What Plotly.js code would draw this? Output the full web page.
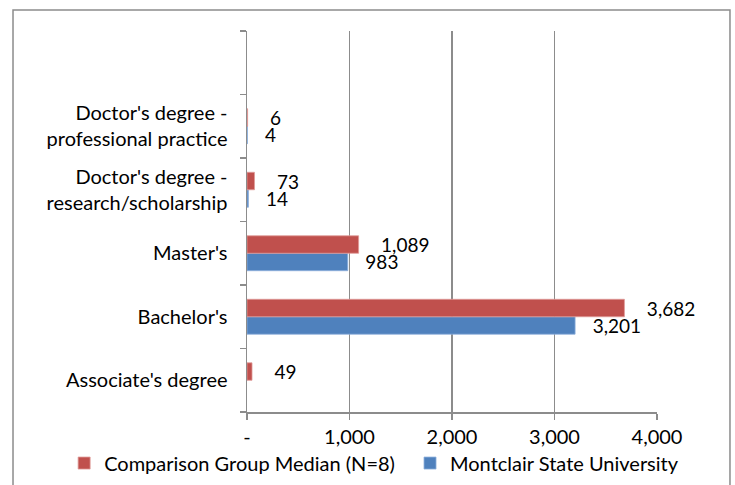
<!DOCTYPE html>
<html>
<head>
<meta charset="utf-8">
<script src="https://cdn.plot.ly/plotly-3.0.1.min.js"></script>
<style>html,body{margin:0;padding:0;background:#fff;}#chart{width:735px;height:485px;}</style>
</head>
<body>
<div id="chart"></div>
<script>
// Categories listed bottom to top
const categories = [
  "Associate's degree",
  "Bachelor's",
  "Master's",
  "Doctor's degree -<br>research/scholarship",
  "Doctor's degree -<br>professional practice",
  " "
];
const comparisonMedian = [49, 3682, 1089, 73, 6, null];
const montclair = [null, 3201, 983, 14, 4, null];
const seriesNames = ["Comparison Group Median (N=8)", "Montclair State University"];
const xTickVals = [0, 1000, 2000, 3000, 4000];
const xTickText = ["-", "1,000", "2,000", "3,000", "4,000"];

const FONT = "Lato, 'Open Sans', sans-serif";
const GRID = "#8c8c8c";

const traces = [
  {
    type: "bar", orientation: "h",
    name: seriesNames[1], legend: "legend2",
    y: categories, x: montclair,
    marker: {color: "#4F81BD", line: {color: "#8eb0dc", width: 0.8}},
    texttemplate: "\u00a0\u00a0\u00a0%{x:,}",
    textposition: "outside",
    constraintext: "none",
    cliponaxis: false,
    textfont: {family: FONT, size: 19, color: "#000"},
    hoverinfo: "skip"
  },
  {
    type: "bar", orientation: "h",
    name: seriesNames[0], legend: "legend",
    y: categories, x: comparisonMedian,
    marker: {color: "#C0504D", line: {color: "#e09a98", width: 0.8}},
    texttemplate: "\u00a0\u00a0\u00a0\u00a0%{x:,}",
    textposition: "outside",
    constraintext: "none",
    cliponaxis: false,
    textfont: {family: FONT, size: 19, color: "#000"},
    hoverinfo: "skip"
  }
];

const legendCommon = {
  orientation: "h", yanchor: "middle", y: -0.134, xanchor: "left",
  font: {family: FONT, size: 20, color: "#000"},
  itemwidth: 30, bgcolor: "rgba(0,0,0,0)"
};

const layout = {
  width: 735, height: 485,
  margin: {l: 247, r: 78, t: 31, b: 73, pad: 0, autoexpand: false},
  paper_bgcolor: "#fff", plot_bgcolor: "#fff",
  font: {family: FONT, size: 20, color: "#000"},
  barmode: "group",
  bargap: 0.45, bargroupgap: 0,
  showlegend: true,
  legend: Object.assign({}, legendCommon, {x: -0.446}),
  legend2: Object.assign({}, legendCommon, {x: 0.3976}),
  xaxis: {
    range: [0, 4000], tickvals: xTickVals, ticktext: xTickText,
    showgrid: true, gridcolor: GRID, gridwidth: 1.5,
    zeroline: false, showline: true, linecolor: GRID, linewidth: 1.5,
    ticks: "outside", ticklen: 6, tickcolor: GRID, tickwidth: 1.5,
    ticklabelstandoff: 0,
    tickfont: {family: FONT, size: 20, color: "#000"},
    fixedrange: true
  },
  yaxis: {
    type: "category", categoryorder: "array", categoryarray: categories,
    showgrid: false, zeroline: false, showline: true, linecolor: GRID, linewidth: 1.5,
    ticks: "outside", tickson: "boundaries", ticklen: 6, tickcolor: GRID, tickwidth: 1.5,
    ticklabelstandoff: 14,
    tickfont: {family: FONT, size: 20, color: "#000"},
    fixedrange: true
  },
  shapes: [{
    type: "rect", xref: "paper", yref: "paper",
    x0: -0.5707, x1: 1.178, y0: -0.35, y1: 1.055,
    line: {color: "#8c8c8c", width: 1.5}, fillcolor: "rgba(0,0,0,0)", layer: "below"
  }]
};

Plotly.newPlot("chart", traces, layout, {displayModeBar: false, staticPlot: true});
</script>
</body>
</html>
